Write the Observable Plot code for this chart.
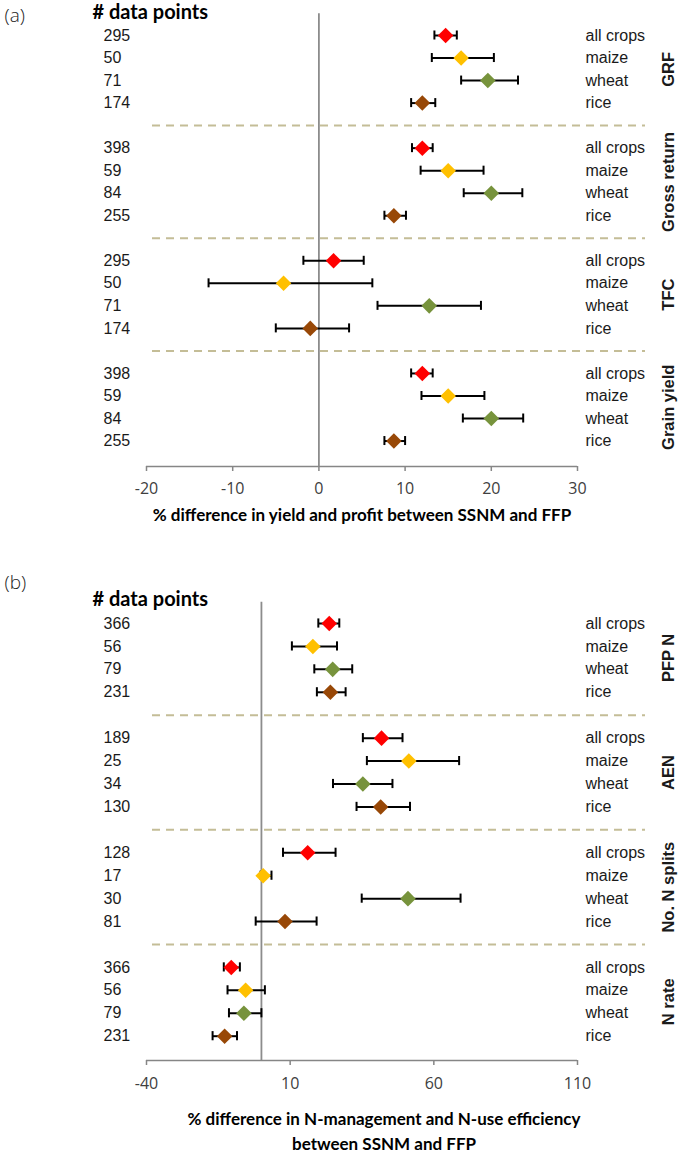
<!DOCTYPE html>
<html>
<head>
<meta charset="utf-8">
<script src="https://cdn.jsdelivr.net/npm/d3@7"></script>
<script src="https://cdn.jsdelivr.net/npm/@observablehq/plot@0.6"></script>
<style>
  body { margin: 0; background: #fff; }
  #chart { width: 685px; }
  #chart svg { display: block; }
</style>
</head>
<body>
<div id="chart"></div>
<script>
// ---------- shared ----------
const crops = ["all crops", "maize", "wheat", "rice"];
const cropColors = ["#FF0000", "#FFC000", "#77933C", "#984807"];

// ---------- panel (a) ----------
const groupsA = ["GRF", "Gross return", "TFC", "Grain yield"];
const nA = [
  [295, 50, 71, 174],
  [398, 59, 84, 255],
  [295, 50, 71, 174],
  [398, 59, 84, 255]
];
const meanA = [
  [14.7, 16.5, 19.6, 12.0],
  [12.0, 15.0, 20.0, 8.7],
  [1.7, -4.1, 12.8, -1.0],
  [12.0, 15.0, 20.0, 8.7]
];
const lowA = [
  [13.4, 13.1, 16.5, 10.7],
  [10.8, 11.8, 16.8, 7.6],
  [-1.8, -12.8, 6.8, -5.0],
  [10.7, 11.9, 16.7, 7.6]
];
const highA = [
  [16.0, 20.3, 23.1, 13.5],
  [13.2, 19.1, 23.6, 10.1],
  [5.2, 6.2, 18.8, 3.5],
  [13.2, 19.2, 23.7, 10.0]
];
const ticksA = [-20, -10, 0, 10, 20, 30];
const titleA = "% difference in yield and profit between SSNM and FFP";

// ---------- panel (b) ----------
const groupsB = ["PFP N", "AEN", "No. N splits", "N rate"];
const nB = [
  [366, 56, 79, 231],
  [189, 25, 34, 130],
  [128, 17, 30, 81],
  [366, 56, 79, 231]
];
const meanB = [
  [23.6, 17.9, 24.8, 24.0],
  [41.8, 51.3, 35.3, 41.5],
  [16.1, 0.6, 51.0, 8.2],
  [-10.5, -5.5, -6.1, -12.8]
];
const lowB = [
  [19.8, 10.6, 18.4, 19.3],
  [35.3, 36.7, 24.9, 33.1],
  [7.5, -0.3, 34.9, -2.0],
  [-13.1, -11.8, -11.3, -17.0]
];
const highB = [
  [27.1, 26.3, 31.6, 29.3],
  [49.1, 68.8, 45.6, 51.7],
  [25.8, 3.5, 69.3, 19.2],
  [-7.5, 1.2, 0.0, -8.5]
];
const ticksB = [-40, 10, 60, 110];
const titleB = "% difference in N-management and N-use efficiency\nbetween SSNM and FFP";

function buildRows(groups, n, mean, low, high) {
  return groups.flatMap((g, gi) => crops.map((c, ci) => ({
    group: g, crop: c, n: n[gi][ci],
    mean: mean[gi][ci], lo: low[gi][ci], hi: high[gi][ci],
    i: gi * 5 + ci
  })));
}

function panel(cfg) {
  const rows = buildRows(cfg.groups, cfg.n, cfg.mean, cfg.low, cfg.high);
  const seps = cfg.groups.slice(1).map((_, g) => g * 5 + 4);
  const capH = 0.2;
  return Plot.plot({
    width: 685,
    height: cfg.height,
    marginLeft: 146,
    marginRight: 108,
    marginTop: cfg.marginTop,
    marginBottom: cfg.marginBottom,
    style: { fontFamily: "Open Sans", fontSize: "16px", color: "#404040", background: "#fff", overflow: "visible" },
    x: { domain: cfg.domain, ticks: cfg.ticks, label: null },
    y: { domain: [0, cfg.yMax], reverse: true, axis: null },
    color: { domain: crops, range: cropColors },
    marks: [
      // group separators
      Plot.ruleY(seps, { stroke: "#C4BD97", strokeWidth: 2, strokeDasharray: "8,6", insetLeft: 6, insetRight: -68 }),
      // zero reference line
      Plot.ruleX([0], { y1: () => cfg.lineTop, y2: () => cfg.yMax, stroke: "#8C8C8C", strokeWidth: 1.8 }),
      // axis line
      Plot.ruleY([cfg.yMax], { stroke: "#868686", strokeWidth: 1.5 }),
      Plot.axisX({ ticks: cfg.ticks, tickFormat: d => String(d), tickSize: 5, tickPadding: cfg.tickPadding, stroke: "#868686", strokeWidth: 1.5, fill: "#404040", fontSize: 16, label: null }),
      // error bars
      Plot.link(rows, { x1: "lo", x2: "hi", y1: "i", y2: "i", stroke: "#000", strokeWidth: 2 }),
      Plot.ruleX(rows, { x: "lo", y1: d => d.i - capH, y2: d => d.i + capH, stroke: "#000", strokeWidth: 2 }),
      Plot.ruleX(rows, { x: "hi", y1: d => d.i - capH, y2: d => d.i + capH, stroke: "#000", strokeWidth: 2 }),
      // means
      Plot.dot(rows, { x: "mean", y: "i", fill: "crop", symbol: "diamond2", r: 7, stroke: null }),
      // n labels
      Plot.text(rows, { y: "i", text: d => String(d.n), frameAnchor: "left", dx: -43, textAnchor: "start", fontFamily: "Liberation Sans", fontSize: 16, fill: "#1a1a1a" }),
      // crop labels
      Plot.text(rows, { y: "i", text: "crop", frameAnchor: "right", dx: 8, textAnchor: "start", fontFamily: "Liberation Sans", fontSize: 16, fill: "#1a1a1a" }),
      // group labels
      Plot.text(cfg.groups, { y: (d, gi) => gi * 5 + 1.5, text: d => d, frameAnchor: "right", dx: 91, rotate: -90, textAnchor: "middle", fontFamily: "Liberation Sans", fontWeight: "bold", fontSize: 16.5, fill: "#1a1a1a" }),
      // header
      Plot.text(["# data points"], { frameAnchor: "top-left", lineAnchor: "middle", dx: -54, dy: cfg.headDy, textAnchor: "start", fontFamily: "Lato", fontWeight: "bold", fontSize: 20, fill: "#000" }),
      Plot.text([cfg.panelLabel], { frameAnchor: "top-left", lineAnchor: "middle", dx: -142, dy: cfg.panelDy, textAnchor: "start", fontFamily: "Open Sans", fontWeight: 300, fontSize: 19, fill: "#222" }),
      // axis title
      Plot.text([cfg.title], { frameAnchor: "bottom", lineAnchor: "middle", dx: cfg.titleDx, dy: cfg.titleDy, lineHeight: 1.5, fontFamily: "Lato", fontWeight: "bold", fontSize: 17, fill: "#000" })
    ]
  });
}

const chart = document.getElementById("chart");
chart.append(panel({
  groups: groupsA, n: nA, mean: meanA, low: lowA, high: highA,
  domain: [-20, 30], ticks: ticksA, title: titleA, panelLabel: "(a)",
  height: 545, marginTop: 35, marginBottom: 79, yMax: 19.13, lineTop: -0.96,
  tickPadding: 11, headDy: -23, panelDy: -20, titleDx: 0, titleDy: 46
}));
chart.append(panel({
  groups: groupsB, n: nB, mean: meanB, low: lowB, high: highB,
  domain: [-40, 110], ticks: ticksB, title: titleB, panelLabel: "(b)",
  height: 609, marginTop: 78, marginBottom: 94, yMax: 19.06, lineTop: -0.93,
  tickPadding: 12, headDy: -24, panelDy: -41, titleDx: 22, titleDy: 69
}));
</script>
</body>
</html>
